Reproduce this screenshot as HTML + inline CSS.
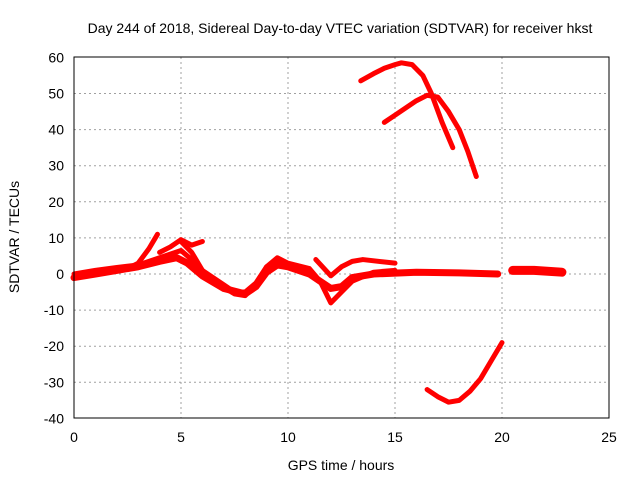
<!DOCTYPE html>
<html><head><meta charset="utf-8"><style>
body{margin:0;background:#fff}
svg text{font-family:"Liberation Sans",sans-serif;font-size:14px;fill:#000}
</style></head><body>
<svg id="chart" width="640" height="480">
<text x="340" y="33" text-anchor="middle">Day 244 of 2018, Sidereal Day-to-day VTEC variation (SDTVAR) for receiver hkst</text>
<g id="grid"></g><g id="ticks"></g><g id="series"></g>
<rect x="74" y="57" width="535" height="361" fill="none" stroke="#000" stroke-width="1"/>
<text x="341" y="470" text-anchor="middle">GPS time / hours</text>
<text transform="translate(19,237) rotate(-90)" text-anchor="middle">SDTVAR / TECUs</text>
</svg>
<script>
const xTicks=[0,5,10,15,20,25];
const yTicks=[60,50,40,30,20,10,0,-10,-20,-30,-40];
const s1=[[0,-1],[1,0],[2,1],[3,2],[4,3.5],[4.8,4.5],[5.3,3],[6,-0.5],[7,-4],[8,-5.5],[8.5,-3.5],[9,0.5],[9.5,2.5],[10,2],[11,0],[11.5,-2],[12,-4],[12.5,-3.5],[13,-1],[14,0],[16,0.5],[18,0.3],[19.8,0]];
const s1w=[[0,0],[1,1],[2,1.8],[3,2.5],[4.5,5.5],[5,6.5],[5.5,4],[6,1],[7,-3],[7.5,-5],[8,-5],[8.5,-2.5],[9,2],[9.5,4],[10,2.5],[11,1]];
const s2=[[2.5,1.5],[3,3],[3.5,7],[3.9,11]];
const s3=[[4,6],[4.5,7.5],[5,9.5],[5.5,8],[6,9]];
const s4=[[5,9],[5.5,6],[6,1],[6.5,-2],[7.5,-5.5],[8,-6],[8.5,-3],[9,2],[9.5,4.5],[10,3],[11,1.5],[11.5,-2],[12,-8],[12.5,-5],[13,-2],[14,0.5],[15,1]];
const s5=[[11.3,4],[12,-0.5],[12.5,2],[13,3.5],[13.5,4],[15,3]];
const s6=[[20.5,1],[21.5,1],[22.8,0.5]];
const s7=[[13.4,53.5],[14,55.5],[14.5,57],[15,58],[15.3,58.5],[15.8,58],[16.3,55],[16.7,50],[17.2,42],[17.7,35]];
const s8=[[14.5,42],[15,44],[15.5,46],[16,48],[16.5,49.5],[17,49],[17.5,45],[18,40],[18.4,34],[18.8,27]];
const s9=[[16.5,-32],[17,-34],[17.5,-35.5],[18,-35],[18.5,-32.5],[19,-29],[19.5,-24],[20,-19]];
const allSeries=[s1,s1w,s2,s3,s4,s5,s6,s7,s8,s9];
const widths=[7,5,5,5,5,5,9,5,5,5];
const NS='http://www.w3.org/2000/svg';
const X=v=>74+v*535/25, Y=v=>274-v*361/100;
const grid=document.getElementById('grid'),ticks=document.getElementById('ticks'),ser=document.getElementById('series');
function mk(t,a,p){const e=document.createElementNS(NS,t);for(const k in a)e.setAttribute(k,a[k]);p.appendChild(e);return e;}
xTicks.forEach(v=>{
 if(v>0&&v<25){const g=mk('line',{x1:X(v),x2:X(v),y1:57,y2:418,stroke:'#a0a0a0','stroke-dasharray':'2,3'},grid);
 
 }
 const t=mk('text',{x:X(v),y:442,'text-anchor':'middle'},ticks);t.textContent=v;
 
 
});
yTicks.forEach(v=>{
 if(v>-40&&v<60){const g=mk('line',{x1:74,x2:609,y1:Y(v),y2:Y(v),stroke:'#a0a0a0','stroke-dasharray':'2,3'},grid);
 
 }
 const t=mk('text',{x:64,y:Y(v)+5,'text-anchor':'end'},ticks);t.textContent=v;
 
 
});
allSeries.forEach((s,i)=>{
 const p=mk('polyline',{points:s.map(d=>X(d[0])+','+Y(d[1])).join(' '),fill:'none',stroke:'#ff0000','stroke-width':widths[i],'stroke-linejoin':'round','stroke-linecap':'round'},ser);
 
 
});
</script>
</body></html>
